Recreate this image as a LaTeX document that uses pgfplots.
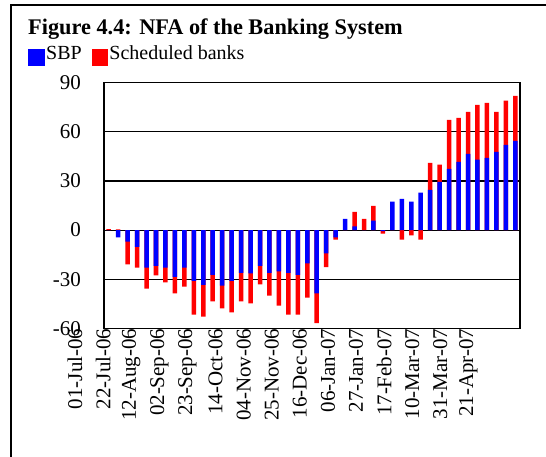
\documentclass[border=0pt]{standalone}
\usepackage{fontspec}
\setmainfont{Liberation Serif}
\usepackage{pgfplots}
\usepackage{pgfplotstable}
\pgfplotsset{compat=1.18}
\pgfplotstableread{
i sbp banks
0 0 0.6
1 -4.5 0.5
2 -7.0 -14.0
3 -10.2 -12.7
4 -22.9 -12.8
5 -21.8 -5.9
6 -22.9 -9.1
7 -28.6 -10.1
8 -22.9 -11.6
9 -31.0 -20.6
10 -33.4 -19.4
11 -27.3 -16.3
12 -33.9 -14.0
13 -31.0 -19.3
14 -26.1 -17.5
15 -26.5 -18.3
16 -21.8 -11.4
17 -26.1 -13.9
18 -25.3 -20.8
19 -26.1 -25.5
20 -27.3 -24.3
21 -20.4 -20.8
22 -38.7 -18.2
23 -14.3 -8.4
24 -4.5 -1.3
25 6.9 0
26 2.2 8.9
27 0 6.9
28 5.7 9.1
29 -0.6 -1.5
30 17.3 0
31 19.1 -5.8
32 17.3 -3.3
33 22.8 -5.8
34 24.6 16.5
35 29.5 10.4
36 37.4 29.9
37 41.7 26.9
38 46.6 25.6
39 43.1 33.4
40 44.1 33.6
41 47.8 24.4
42 52.1 26.9
43 54.5 27.5
}\nfadata
\begin{document}
\begin{tikzpicture}
\useasboundingbox (0pt,0pt) rectangle (546pt,-456pt);
\draw[line width=2pt] (11.2pt,-480pt) -- (11.2pt,-4.7pt) -- (570pt,-4.7pt);
\node[anchor=base west, inner sep=0pt, font=\bfseries\fontsize{22.3}{26}\selectfont] at (28pt,-34.3pt) {Figure 4.4: NFA of the Banking System};
\begin{axis}[
  scale only axis, width=416pt, height=245.6pt,
  at={(104pt,-328.3pt)}, anchor=south west,
  xmin=-0.5, xmax=43.5, ymin=-60, ymax=90,
  ytick={-60,-30,0,30,60,90}, yticklabels={-60,-30,0,30,60,90},
  xtick={0,2.972,5.944,8.916,11.888,14.86,17.832,20.804,23.776,26.748,29.72,32.692,35.664,38.636,41.608},
  xticklabels={01-Jul-06,22-Jul-06,12-Aug-06,02-Sep-06,23-Sep-06,14-Oct-06,04-Nov-06,25-Nov-06,16-Dec-06,06-Jan-07,27-Jan-07,17-Feb-07,10-Mar-07,31-Mar-07,21-Apr-07},
  major tick length=0pt,
  ymajorgrids, major grid style={black, line width=1.1pt},
  axis line style={line width=1.5pt},
  tick label style={font=\fontsize{21}{25}\selectfont},
  yticklabel style={inner sep=0pt, anchor=east, xshift=-23pt},
  xticklabel style={xshift=-33.7pt, rotate=90, anchor=east, inner sep=0pt},
  legend columns=2,
  legend style={at={(axis description cs:-0.182,1.155)}, anchor=north west, draw=none, fill=none, inner sep=0pt, font=\fontsize{20}{24}\selectfont, /tikz/every even column/.append style={column sep=9pt}, nodes={inner sep=1pt}},
  legend image code/.code={\fill[#1] (0pt,-12pt) rectangle (16.7pt,4.4pt);},
]
\addlegendimage{fill=blue, draw=none}
\addlegendentry{SBP}
\addlegendimage{fill=red, draw=none}
\addlegendentry{Scheduled banks}
\addplot[ybar, bar width=4.5pt, bar shift=0pt, fill=red, draw=none, forget plot]
  table[x=i, y expr={((\thisrow{sbp})*(\thisrow{banks})>0) ? (\thisrow{sbp})+(\thisrow{banks}) : (\thisrow{banks})}] {\nfadata};
\addplot[ybar, bar width=4.5pt, bar shift=0pt, fill=blue, draw=none, forget plot]
  table[x=i, y=sbp] {\nfadata};
\end{axis}
\end{tikzpicture}
\end{document}
